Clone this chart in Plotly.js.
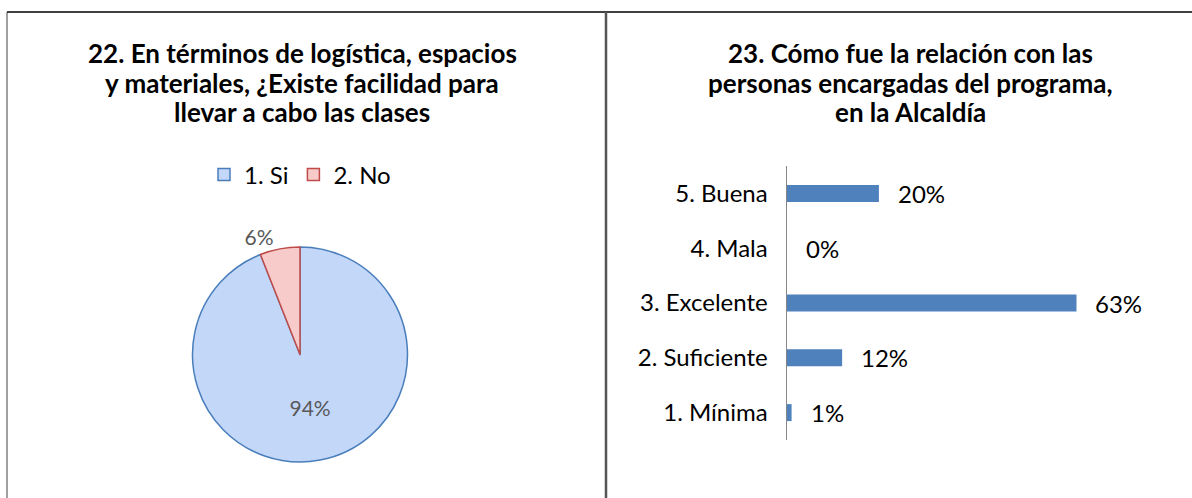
<!DOCTYPE html>
<html>
<head>
<meta charset="utf-8">
<script src="https://cdn.plot.ly/plotly-3.0.1.min.js"></script>
<style>
    html, body { margin: 0; padding: 0; background: #fff; }
    #chart { width: 1192px; height: 498px; }
</style>
</head>
<body>
<div id="chart"></div>
<script>
// pie: question 22
var pieLabels = ['1. Si', '2. No'];
var pieValues = [94, 6];
var pieColors = ['#c3d7f9', '#f8cbcb'];
var pieLineColors = ['#4a7ebb', '#be4b48'];

// bars: question 23 (bottom to top)
var barCategories = ['1. Mínima', '2. Suficiente', '3. Excelente', '4. Mala', '5. Buena'];
var barValues = [1, 12, 63, 0, 20];

// title lines, as wrapped in the picture
var leftTitleLines = ['22. En términos de logística, espacios', 'y materiales, ¿Existe facilidad para', 'llevar a cabo las clases'];
var rightTitleLines = ['23. Cómo fue la relación con las', 'personas encargadas del programa,', 'en la Alcaldía'];

var fontFamily = 'Lato, "Open Sans", sans-serif';
var W = 1192, H = 498;

function px(x) { return x / W; }
function py(y) { return (H - y) / H; }

var pieTrace = {
    type: 'pie',
    labels: pieLabels,
    values: pieValues,
    sort: false,
    direction: 'clockwise',
    rotation: 0,
    marker: {colors: pieColors, line: {color: pieLineColors, width: 1.5}},
    textinfo: 'percent',
    textposition: ['inside', 'outside'],
    insidetextorientation: 'horizontal',
    textfont: {family: fontFamily, size: 21, color: '#595959'},
    domain: {x: [px(192), px(408)], y: [py(462), py(247)]},
    hoverinfo: 'label+percent'
};

var barTrace = {
    type: 'bar',
    orientation: 'h',
    x: barValues,
    y: barCategories,
    width: 0.31,
    marker: {color: '#4f81bd'},
    showlegend: false,
    xaxis: 'x',
    yaxis: 'y'
};

var annotations = [];

// titles: one annotation per line
var lineMids = [53, 83, 112];
for (let i = 0; i < 3; i++) {
    annotations.push({
        xref: 'paper', yref: 'paper', x: px(302), y: py(lineMids[i]),
        xanchor: 'center', yanchor: 'middle', showarrow: false,
        text: '<b>' + leftTitleLines[i] + '</b>',
        font: {family: fontFamily, size: 26, color: '#000'}
    });
    annotations.push({
        xref: 'paper', yref: 'paper', x: px(910), y: py(lineMids[i]),
        xanchor: 'center', yanchor: 'middle', showarrow: false,
        text: '<b>' + rightTitleLines[i] + '</b>',
        font: {family: fontFamily, size: 26, color: '#000'}
    });
}

for (let i = 0; i < barValues.length; i++) {
    annotations.push({
        xref: 'x', yref: 'y', x: barValues[i], y: barCategories[i],
        text: barValues[i] + '%', xanchor: 'left', xshift: 17, showarrow: false,
        font: {family: fontFamily, size: 24, color: '#000'}
    });
}

var layout = {
    width: W,
    height: H,
    margin: {t: 0, r: 0, b: 0, l: 0},
    paper_bgcolor: '#fff',
    plot_bgcolor: '#fff',
    font: {family: fontFamily, color: '#000'},
    showlegend: true,
    legend: {
        orientation: 'h',
        x: px(300), xanchor: 'center',
        y: py(175), yanchor: 'middle',
        font: {family: fontFamily, size: 24, color: '#000'},
        bgcolor: 'rgba(0,0,0,0)'
    },
    xaxis: {
        domain: [px(787), px(1150)],
        range: [0, 79],
        visible: false,
        fixedrange: true
    },
    yaxis: {
        domain: [py(440), py(166)],
        anchor: 'x',
        showline: true,
        linecolor: '#868686',
        linewidth: 1.5,
        showgrid: false,
        zeroline: false,
        ticks: '',
        ticklabelstandoff: 13,
        tickfont: {family: fontFamily, size: 24, color: '#000'},
        fixedrange: true
    },
    annotations: annotations,
    shapes: [
        {type: 'line', xref: 'paper', yref: 'paper', x0: px(7), x1: 1, y0: py(12), y1: py(12),
         line: {color: '#404040', width: 2}},
        {type: 'line', xref: 'paper', yref: 'paper', x0: px(7), x1: px(7), y0: py(12), y1: 0,
         line: {color: '#404040', width: 1}},
        {type: 'line', xref: 'paper', yref: 'paper', x0: px(606), x1: px(606), y0: py(12), y1: 0,
         line: {color: '#555555', width: 2.5}}
    ]
};

Plotly.newPlot('chart', [pieTrace, barTrace], layout, {displayModeBar: false, staticPlot: true});
</script>
</body>
</html>
